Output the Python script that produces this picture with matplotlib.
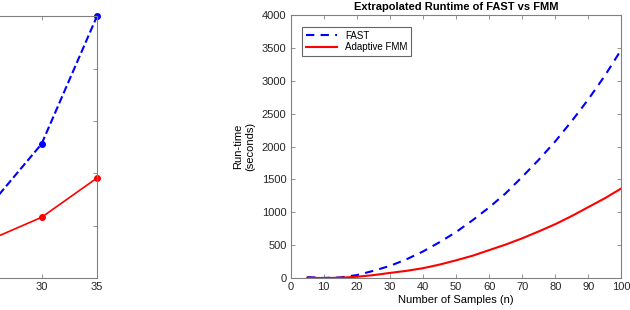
import numpy as np
import matplotlib
matplotlib.use('Agg')
from matplotlib import pyplot as plt

plt.rcParams['font.family'] = ['Liberation Sans', 'DejaVu Sans']

# left panel (measured runtimes, only the right end is visible)
n_meas = [5, 10, 15, 20, 25, 30, 35]
fast_meas = [0.5, 1.5, 3.5, 7.0, 13.0, 25.6, 50.0]
fmm_meas = [0.3, 1.0, 2.5, 4.5, 7.0, 11.6, 19.1]

# right panel (extrapolated runtimes)
n_ext = [5, 10, 15, 20, 25, 30, 35, 40, 45, 50, 55, 60, 65, 70, 75, 80, 85, 90, 95, 100]
fast_ext = [15, 2, 10, 45, 110, 185, 285, 405, 545, 700, 880, 1075, 1290, 1540, 1800,
            2080, 2390, 2720, 3080, 3480]
fmm_ext = [5, 0, 5, 20, 45, 78, 110, 150, 205, 270, 340, 425, 510, 605, 710, 820, 945,
           1080, 1215, 1365]

x_ticks = np.arange(0, 101, 10)
y_ticks = np.arange(0, 4001, 500)

spine_col = '#808080'
text_col = '#262626'

fig = plt.figure(figsize=(6.3, 3.1), dpi=100)

# left axes sits mostly outside the figure, like the cropped source
ax1 = fig.add_axes([-0.374, 0.103, 0.528, 0.845])
ax1.plot(n_meas, fast_meas, '--', color='blue', lw=1.5, marker='o', ms=4, clip_on=False)
ax1.plot(n_meas, fmm_meas, '-', color='red', lw=1.2, marker='o', ms=4, clip_on=False)
ax1.set_xlim(5, 35)
ax1.set_ylim(0, 50)
ax1.set_xticks(n_meas)
# only the labels that fall inside the picture
ax1.set_xticklabels([str(v) if v >= 30 else '' for v in n_meas])
ax1.set_yticks(np.arange(0, 51, 10))
ax1.set_yticklabels([])

ax2 = fig.add_axes([0.4614, 0.103, 0.525, 0.848])
ax2.plot(n_ext, fast_ext, '--', color='blue', lw=1.5, dashes=(4, 3), label='FAST')
ax2.plot(n_ext, fmm_ext, '-', color='red', lw=1.5, label='Adaptive FMM')
ax2.set_xlim(0, 100)
ax2.set_ylim(0, 4000)
ax2.set_xticks(x_ticks)
ax2.set_yticks(y_ticks)
ax2.set_title('Extrapolated Runtime of FAST vs FMM', fontsize=8, fontweight='bold', pad=4)
ax2.set_xlabel('Number of Samples (n)', fontsize=8, labelpad=2)
ax2.set_ylabel('Run-time\n(seconds)', fontsize=8, labelpad=5)
leg = ax2.legend(loc='upper left', fontsize=7, frameon=True, fancybox=False,
                 edgecolor='#404040', handlelength=3.2, borderpad=0.4,
                 labelspacing=0.2, bbox_to_anchor=(0.02, 0.975))
leg.get_frame().set_linewidth(0.8)

for ax in (ax1, ax2):
    for sp in ax.spines.values():
        sp.set_color(spine_col)
        sp.set_linewidth(0.8)
    ax.tick_params(direction='in', top=True, right=True, length=3, width=0.6,
                   color=spine_col, labelsize=8, labelcolor=text_col, pad=3)

fig.savefig('out.png', dpi=100)
